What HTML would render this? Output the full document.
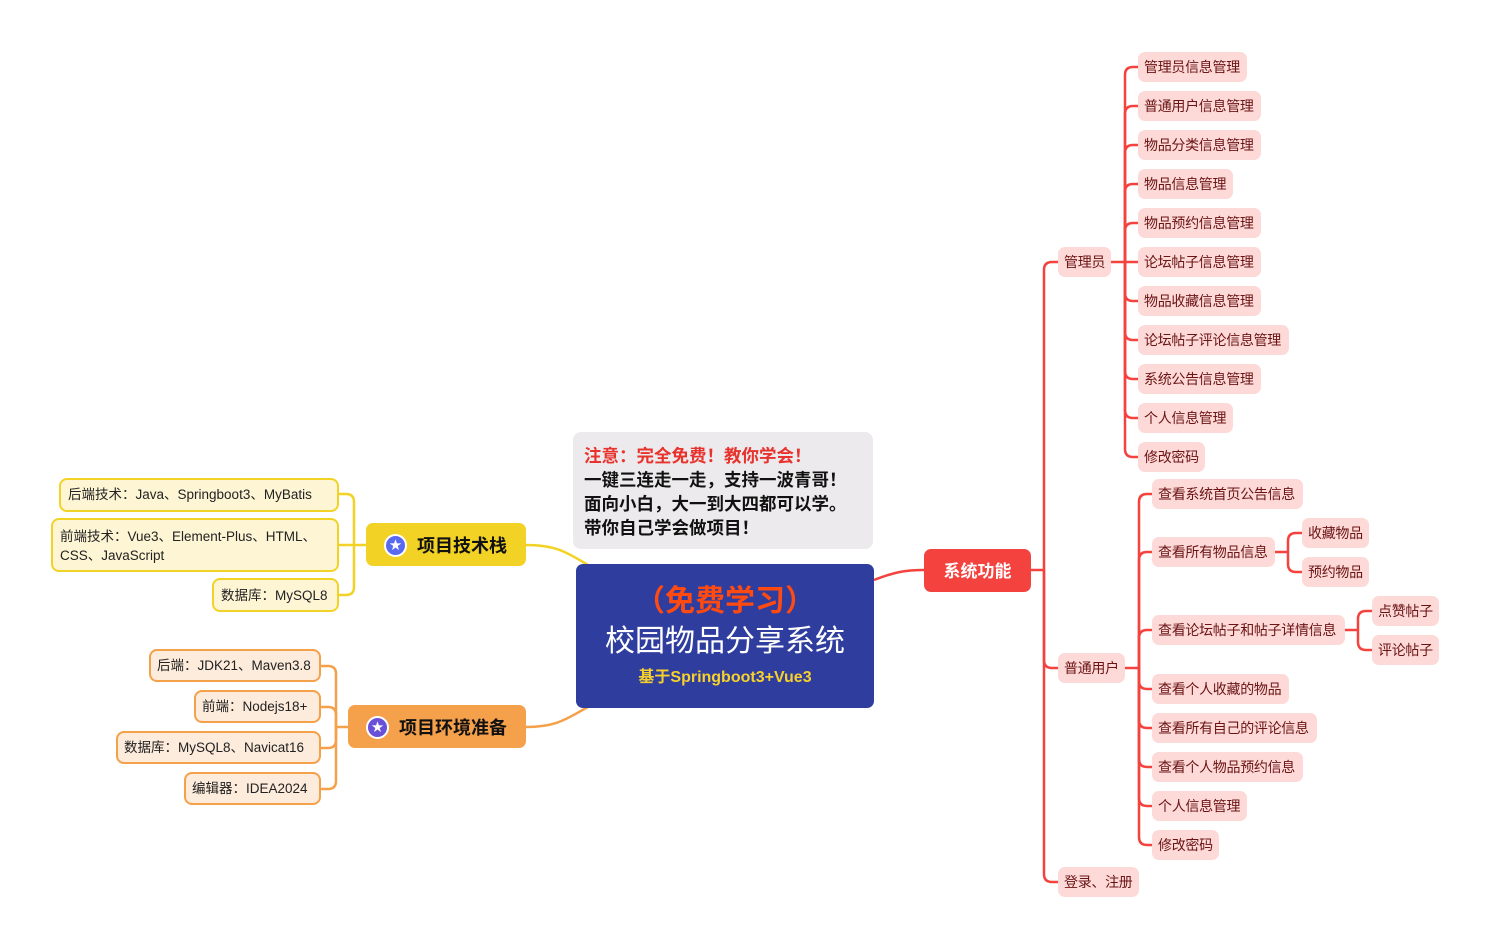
<!DOCTYPE html>
<html><head><meta charset="utf-8"><style>
body{margin:0;width:1490px;height:947px;background:#fff;position:relative;overflow:hidden;font-family:"Liberation Sans","Noto Sans CJK SC",sans-serif}
.n{position:absolute;box-sizing:border-box;white-space:nowrap}
.p{background:#FDD9D7;color:#6A1414;font-size:14px;height:30px;line-height:30px;padding-left:6px;border-radius:7px;letter-spacing:-0.3px}
.y{background:#FDF5D4;border:2px solid #F2D325;color:#222;font-size:13.5px;border-radius:8px;padding-left:7px;line-height:31px}
.o{background:#FDEBDB;border:2px solid #F5A04A;color:#222;font-size:13.5px;border-radius:8px;padding-left:6px;line-height:29px;height:33px}
.m{font-size:18px;font-weight:bold;color:#111;border-radius:7px;height:43px;line-height:43px}
.star{display:inline-block;width:19px;height:19px;border-radius:50%;background:#5a6af0;border:2px solid #fff;color:#fff;font-size:12px;line-height:19px;text-align:center;vertical-align:middle;margin:0 10px 3px 18px}
</style></head><body>
<svg width="1490" height="947" style="position:absolute;left:0;top:0" fill="none" stroke-width="2.5">
<g stroke="#F2D325"><path d="M526,545 C560,545 570,555 590,566"/><path d="M366,545 H354"/><path d="M354,545 V502 Q354,494 346,494 H339"/><path d="M354,545 H339"/><path d="M354,545 V587 Q354,595 346,595 H339"/></g>
<g stroke="#F5A04A"><path d="M526,727 C560,727 570,716 590,706"/><path d="M348,727 H336"/><path d="M336,727 V674 Q336,666 328,666 H321"/><path d="M336,727 V715 Q336,707 328,707 H321"/><path d="M336,727 V740 Q336,748 328,748 H321"/><path d="M336,727 V781 Q336,789 328,789 H321"/></g>
<g stroke="#F4433F"><path d="M874,580 C895,572 905,570 924,570"/><path d="M1031,570 H1044"/>
<path d="M1044,570 V270 Q1044,262 1052,262 H1058"/><path d="M1044,570 V660 Q1044,668 1052,668 H1058"/><path d="M1044,570 V874 Q1044,882 1052,882 H1058"/>
<path d="M1111,262 H1125"/>
<path d="M1125,262 V75 Q1125,67 1133,67 H1138"/><path d="M1125,262 V114 Q1125,106 1133,106 H1138"/><path d="M1125,262 V153 Q1125,145 1133,145 H1138"/><path d="M1125,262 V192 Q1125,184 1133,184 H1138"/><path d="M1125,262 V231 Q1125,223 1133,223 H1138"/><path d="M1125,262 H1138"/><path d="M1125,262 V293 Q1125,301 1133,301 H1138"/><path d="M1125,262 V332 Q1125,340 1133,340 H1138"/><path d="M1125,262 V371 Q1125,379 1133,379 H1138"/><path d="M1125,262 V410 Q1125,418 1133,418 H1138"/><path d="M1125,262 V449 Q1125,457 1133,457 H1138"/>
<path d="M1125,668 H1139"/>
<path d="M1139,668 V502 Q1139,494 1147,494 H1152"/><path d="M1139,668 V560 Q1139,552 1147,552 H1152"/><path d="M1139,668 V638 Q1139,630 1147,630 H1152"/><path d="M1139,668 V681 Q1139,689 1147,689 H1152"/><path d="M1139,668 V720 Q1139,728 1147,728 H1152"/><path d="M1139,668 V759 Q1139,767 1147,767 H1152"/><path d="M1139,668 V798 Q1139,806 1147,806 H1152"/><path d="M1139,668 V837 Q1139,845 1147,845 H1152"/>
<path d="M1275,552 H1288"/><path d="M1288,552 V541 Q1288,533 1296,533 H1302"/><path d="M1288,552 V564 Q1288,572 1296,572 H1302"/>
<path d="M1345,630 H1358"/><path d="M1358,630 V619 Q1358,611 1366,611 H1372"/><path d="M1358,630 V642 Q1358,650 1366,650 H1372"/>
</g></svg>

<div class="n" style="left:573px;top:432px;width:300px;height:117px;background:#ECEAEC;border-radius:8px;padding:12px 0 0 11px;font-size:17.5px;font-weight:bold;line-height:24px;color:#111">
<span style="color:#E8322D">注意：完全免费！教你学会！</span><br>一键三连走一走，支持一波青哥！<br>面向小白，大一到大四都可以学。<br>带你自己学会做项目！</div>

<div class="n" style="left:576px;top:564px;width:298px;height:144px;background:#2F3D9E;border-radius:7px;text-align:center;color:#fff">
<div style="color:#FF4A12;font-size:30px;font-weight:bold;margin-top:19px;line-height:38px">（免费学习）</div>
<div style="font-size:30px;line-height:42px">校园物品分享系统</div>
<div style="color:#F7D12B;font-size:16px;font-weight:bold;line-height:30px">基于Springboot3+Vue3</div></div>

<div class="n" style="left:924px;top:549px;width:107px;height:43px;background:#F4433F;border-radius:7px;color:#fff;font-size:17px;font-weight:bold;text-align:center;line-height:45px">系统功能</div>

<div class="n m" style="left:366px;top:523px;width:160px;background:#F2D325;line-height:46px"><span class="star">★</span>项目技术栈</div>
<div class="n m" style="left:348px;top:705px;width:178px;background:#F5A04A;line-height:46px"><span class="star" style="background:#6a4fd8">★</span>项目环境准备</div>

<div class="n y" style="left:59px;top:478px;width:280px;height:34px;line-height:30px">后端技术：Java、Springboot3、MyBatis</div>
<div class="n y" style="left:51px;top:518px;width:288px;height:54px;line-height:19px;padding-top:7px">前端技术：Vue3、Element-Plus、HTML、<br>CSS、JavaScript</div>
<div class="n y" style="left:212px;top:578px;width:127px;height:34px;line-height:32px">数据库：MySQL8</div>

<div class="n o" style="left:149px;top:649px;width:172px">后端：JDK21、Maven3.8</div>
<div class="n o" style="left:194px;top:690px;width:127px">前端：Nodejs18+</div>
<div class="n o" style="left:116px;top:731px;width:205px">数据库：MySQL8、Navicat16</div>
<div class="n o" style="left:184px;top:772px;width:137px">编辑器：IDEA2024</div>

<div class="n p" style="left:1058px;top:247px;width:53px">管理员</div>
<div class="n p" style="left:1058px;top:653px;width:67px">普通用户</div>
<div class="n p" style="left:1058px;top:867px;width:81px">登录、注册</div>

<div class="n p" style="left:1138px;top:52px;width:109px">管理员信息管理</div>
<div class="n p" style="left:1138px;top:91px;width:123px">普通用户信息管理</div>
<div class="n p" style="left:1138px;top:130px;width:123px">物品分类信息管理</div>
<div class="n p" style="left:1138px;top:169px;width:95px">物品信息管理</div>
<div class="n p" style="left:1138px;top:208px;width:123px">物品预约信息管理</div>
<div class="n p" style="left:1138px;top:247px;width:123px">论坛帖子信息管理</div>
<div class="n p" style="left:1138px;top:286px;width:123px">物品收藏信息管理</div>
<div class="n p" style="left:1138px;top:325px;width:151px">论坛帖子评论信息管理</div>
<div class="n p" style="left:1138px;top:364px;width:123px">系统公告信息管理</div>
<div class="n p" style="left:1138px;top:403px;width:95px">个人信息管理</div>
<div class="n p" style="left:1138px;top:442px;width:67px">修改密码</div>

<div class="n p" style="left:1152px;top:479px;width:151px">查看系统首页公告信息</div>
<div class="n p" style="left:1152px;top:537px;width:123px">查看所有物品信息</div>
<div class="n p" style="left:1152px;top:615px;width:193px">查看论坛帖子和帖子详情信息</div>
<div class="n p" style="left:1152px;top:674px;width:137px">查看个人收藏的物品</div>
<div class="n p" style="left:1152px;top:713px;width:165px">查看所有自己的评论信息</div>
<div class="n p" style="left:1152px;top:752px;width:151px">查看个人物品预约信息</div>
<div class="n p" style="left:1152px;top:791px;width:95px">个人信息管理</div>
<div class="n p" style="left:1152px;top:830px;width:67px">修改密码</div>

<div class="n p" style="left:1302px;top:518px;width:67px">收藏物品</div>
<div class="n p" style="left:1302px;top:557px;width:67px">预约物品</div>
<div class="n p" style="left:1372px;top:596px;width:67px">点赞帖子</div>
<div class="n p" style="left:1372px;top:635px;width:67px">评论帖子</div>
</body></html>
